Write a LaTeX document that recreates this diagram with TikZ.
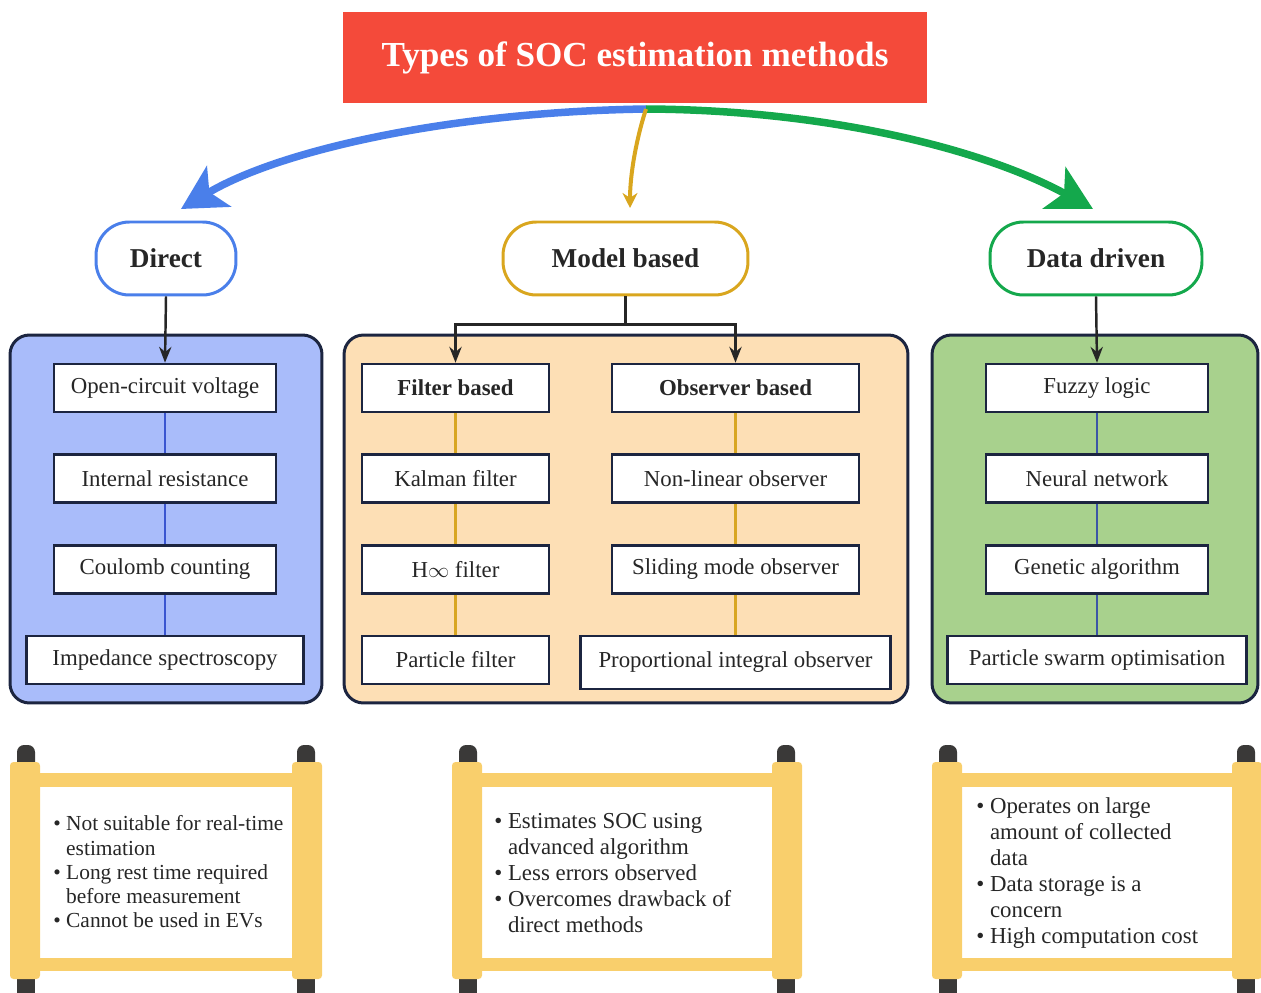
\documentclass[tikz,border=0pt]{standalone}
\usepackage{fontspec}
\setmainfont{Liberation Serif}
\usetikzlibrary{arrows.meta,positioning,calc}
\definecolor{socred}{HTML}{F44A3A}
\definecolor{socblue}{HTML}{4A7FEA}
\definecolor{socgold}{HTML}{D9A61E}
\definecolor{socgreen}{HTML}{14A84C}
\definecolor{socnavy}{HTML}{1C2540}
\definecolor{soctext}{HTML}{262626}
\definecolor{panblue}{HTML}{A9BCFA}
\definecolor{panpeach}{HTML}{FDDFB5}
\definecolor{pangreen}{HTML}{A8D18D}
\definecolor{linkblue}{HTML}{3A55D0}
\definecolor{linkgold}{HTML}{D8A622}
\definecolor{linkgreen}{HTML}{3B56A6}
\definecolor{rollyel}{HTML}{F9CF6C}
\definecolor{rollcap}{HTML}{3A3938}
\tikzset{
  titlebox/.style  = {rectangle, fill=socred, minimum width=11.68cm, minimum height=1.82cm,
                      font=\fontsize{20}{24}\selectfont\bfseries\color{white}},
  catnode/.style   = {rectangle, rounded corners=19pt, draw=#1, line width=1.7pt, fill=white,
                      minimum height=1.46cm, font=\fontsize{15.5}{18}\selectfont\bfseries\color{soctext}},
  panelbox/.style  = {rectangle, rounded corners=11pt, draw=socnavy, line width=1.7pt, fill=#1,
                      minimum height=7.36cm},
  mbox/.style      = {rectangle, draw=socnavy, line width=1.5pt, fill=white, minimum height=0.96cm,
                      inner sep=0pt, font=\fontsize{13}{15}\selectfont\color{soctext}},
  mhead/.style     = {mbox, font=\fontsize{13}{15}\selectfont\bfseries\color{soctext}},
  mlink/.style     = {line width=1.4pt, #1},
  downarrow/.style = {-{Stealth[length=9pt,width=7pt]}, line width=1.4pt, soctext},
  bigarrow/.style  = {-{Stealth[length=0.88cm,width=0.94cm,inset=0.22cm]}, line width=0.15cm, #1},
  scrolltxt/.style = {align=left, inner sep=0pt, anchor=west,
                      font=\fontsize{12.2}{13.8}\selectfont\color{soctext}},
}
\newcommand{\bpt}{\makebox[0.6em][l]{\textbullet}}
% scroll drawn between left edge #1 and right edge #2
\newcommand{\scrollart}[2]{%
  \fill[rollcap, rounded corners=4pt] ({#1+7},745) rectangle ({#1+25},772);
  \fill[rollcap, rounded corners=4pt] ({#2-25},745) rectangle ({#2-7},772);
  \fill[rollcap] ({#1+7},970) rectangle ({#1+25},1000);
  \fill[rollcap] ({#2-25},970) rectangle ({#2-7},1000);
  \fill[rollyel] ({#1+30},773) rectangle ({#2-30},787);
  \fill[rollyel] ({#1+30},958) rectangle ({#2-30},971);
  \fill[rollyel, rounded corners=2pt] (#1,762) rectangle ({#1+30},979);
  \fill[rollyel, rounded corners=2pt] ({#2-30},762) rectangle (#2,979);
}
\begin{document}
\begin{tikzpicture}[x=0.02cm, y=-0.02cm]
\useasboundingbox (0,0) rectangle (1261,993);

\node[titlebox] (title) at (635,57.5) {Types of SOC estimation methods};

\node[catnode=socblue,  minimum width=2.8cm]  (direct) at (166,258.5)  {Direct};
\node[catnode=socgold,  minimum width=4.9cm]  (model)  at (625.5,258.5) {Model based};
\node[catnode=socgreen, minimum width=4.24cm] (data)   at (1096,258.5) {Data driven};

\coordinate (hub)  at (646,109);
\coordinate (dtip) at (181,209);
\coordinate (mtip) at (630,208);
\coordinate (gtip) at (1093,209);
\draw[bigarrow=socblue]  (hub) .. controls (450,112) and (280,150) .. (dtip);
\draw[bigarrow=socgreen] (hub) .. controls (830,110) and (985,150) .. (gtip);
\draw[-{Stealth[length=0.3cm,width=0.3cm]}, line width=0.08cm, socgold]
  (hub) .. controls (636,140) and (630,175) .. (mtip);

\node[panelbox=panblue,  minimum width=6.24cm]  (dpanel) at (166,519)  {};
\node[panelbox=panpeach, minimum width=11.28cm] (mpanel) at (626,519)  {};
\node[panelbox=pangreen, minimum width=6.52cm]  (gpanel) at (1095,519) {};

% direct
\node[mbox, minimum width=4.44cm] (ocv) at (165,388) {Open-circuit voltage};
\node[mbox, minimum width=4.44cm, below=0.8cm of ocv] (ir)  {Internal resistance};
\node[mbox, minimum width=4.44cm, below=0.8cm of ir]  (cc)  {Coulomb counting};
\node[mbox, minimum width=5.54cm, below=0.8cm of cc]  (eis) {Impedance spectroscopy};

% model based
\node[mhead, minimum width=3.74cm] (fb) at (455.5,388) {Filter based};
\node[mbox, minimum width=3.74cm, below=0.8cm of fb]   (kf)   {Kalman filter};
\node[mbox, minimum width=3.74cm, below=0.8cm of kf]   (hinf) {H$\infty$ filter};
\node[mbox, minimum width=3.74cm, below=0.8cm of hinf] (pf)   {Particle filter};
\node[mhead, minimum width=4.94cm] (ob) at (735.5,388) {Observer based};
\node[mbox, minimum width=4.94cm, below=0.8cm of ob]  (nlo) {Non-linear observer};
\node[mbox, minimum width=4.94cm, below=0.8cm of nlo] (smo) {Sliding mode observer};
\node[mbox, minimum width=6.2cm, minimum height=1.06cm, below=0.8cm of smo] (pio) {Proportional integral observer};

% data driven
\node[mbox, minimum width=4.44cm] (fl) at (1097,388) {Fuzzy logic};
\node[mbox, minimum width=4.44cm, below=0.8cm of fl] (nn)  {Neural network};
\node[mbox, minimum width=4.44cm, below=0.8cm of nn] (ga)  {Genetic algorithm};
\node[mbox, minimum width=5.98cm, below=0.8cm of ga] (pso) {Particle swarm optimisation};

\draw[mlink=linkblue] (ocv) -- (ir);
\draw[mlink=linkblue] (ir)  -- (cc);
\draw[mlink=linkblue] (cc)  -- (eis);
\draw[mlink=linkgold] (fb)   -- (kf);
\draw[mlink=linkgold] (kf)   -- (hinf);
\draw[mlink=linkgold] (hinf) -- (pf);
\draw[mlink=linkgold] (ob)   -- (nlo);
\draw[mlink=linkgold] (nlo)  -- (smo);
\draw[mlink=linkgold] (smo)  -- (pio);
\draw[mlink=linkgreen] (fl) -- (nn);
\draw[mlink=linkgreen] (nn) -- (ga);
\draw[mlink=linkgreen] (ga) -- (pso);

\draw[downarrow] (direct.south) -- (ocv.north);
\draw[downarrow] (model.south) -- ++(0,28) -| (fb.north);
\draw[downarrow] (model.south) -- ++(0,28) -| (ob.north);
\draw[downarrow] (data.south) -- (fl.north);

% scrolls
\scrollart{10}{322}
\scrollart{452}{802}
\scrollart{932}{1262}
\node[scrolltxt] (dnote) at (53,872) {\bpt Not suitable for real-time\\\hspace*{0.6em}estimation\\\bpt Long rest time required\\\hspace*{0.6em}before measurement\\\bpt Cannot be used in EVs};
\node[scrolltxt, font=\fontsize{13}{14.9}\selectfont\color{soctext}] (mnote) at (494,873) {\bpt Estimates SOC using\\\hspace*{0.6em}advanced algorithm\\\bpt Less errors observed\\\bpt Overcomes drawback of\\\hspace*{0.6em}direct methods};
\node[scrolltxt, font=\fontsize{13}{14.9}\selectfont\color{soctext}] (gnote) at (976,873) {\bpt Operates on large\\\hspace*{0.6em}amount of collected\\\hspace*{0.6em}data\\\bpt Data storage is a\\\hspace*{0.6em}concern\\\bpt High computation cost};
\end{tikzpicture}
\end{document}
